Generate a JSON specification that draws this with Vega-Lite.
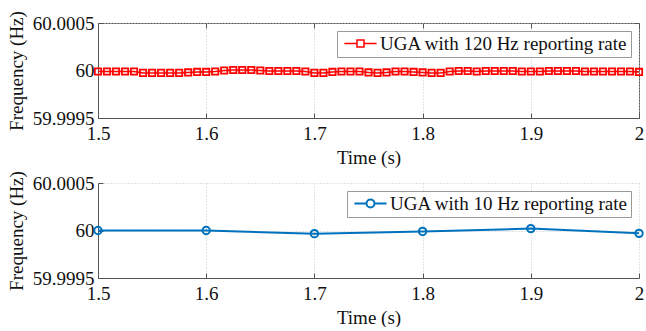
{
  "$schema": "https://vega.github.io/schema/vega-lite/v6.json",
  "padding": {"left": 6, "top": 10, "right": 4, "bottom": 0},
  "background": "white",
  "spacing": 65,
  "bounds": "flush",
  "resolve": {"scale": {"color": "independent"}, "legend": {"color": "independent"}},
  "datasets": {
    "r120": [
      {"t": 1.5, "f": 59.99999, "s": "UGA with 120 Hz reporting rate"},
      {"t": 1.508333, "f": 59.99999, "s": "UGA with 120 Hz reporting rate"},
      {"t": 1.516667, "f": 59.99999, "s": "UGA with 120 Hz reporting rate"},
      {"t": 1.525, "f": 59.99999, "s": "UGA with 120 Hz reporting rate"},
      {"t": 1.533333, "f": 59.99999, "s": "UGA with 120 Hz reporting rate"},
      {"t": 1.541667, "f": 59.999975, "s": "UGA with 120 Hz reporting rate"},
      {"t": 1.55, "f": 59.999975, "s": "UGA with 120 Hz reporting rate"},
      {"t": 1.558333, "f": 59.999975, "s": "UGA with 120 Hz reporting rate"},
      {"t": 1.566667, "f": 59.999975, "s": "UGA with 120 Hz reporting rate"},
      {"t": 1.575, "f": 59.999975, "s": "UGA with 120 Hz reporting rate"},
      {"t": 1.583333, "f": 59.99998, "s": "UGA with 120 Hz reporting rate"},
      {"t": 1.591667, "f": 59.999985, "s": "UGA with 120 Hz reporting rate"},
      {"t": 1.6, "f": 59.999985, "s": "UGA with 120 Hz reporting rate"},
      {"t": 1.608333, "f": 59.99999, "s": "UGA with 120 Hz reporting rate"},
      {"t": 1.616667, "f": 60, "s": "UGA with 120 Hz reporting rate"},
      {"t": 1.625, "f": 60.000005, "s": "UGA with 120 Hz reporting rate"},
      {"t": 1.633333, "f": 60.000005, "s": "UGA with 120 Hz reporting rate"},
      {"t": 1.641667, "f": 60.000005, "s": "UGA with 120 Hz reporting rate"},
      {"t": 1.65, "f": 60, "s": "UGA with 120 Hz reporting rate"},
      {"t": 1.658333, "f": 59.999995, "s": "UGA with 120 Hz reporting rate"},
      {"t": 1.666667, "f": 59.999995, "s": "UGA with 120 Hz reporting rate"},
      {"t": 1.675, "f": 59.999995, "s": "UGA with 120 Hz reporting rate"},
      {"t": 1.683333, "f": 59.999995, "s": "UGA with 120 Hz reporting rate"},
      {"t": 1.691667, "f": 59.99999, "s": "UGA with 120 Hz reporting rate"},
      {"t": 1.7, "f": 59.999975, "s": "UGA with 120 Hz reporting rate"},
      {"t": 1.708333, "f": 59.999975, "s": "UGA with 120 Hz reporting rate"},
      {"t": 1.716667, "f": 59.999985, "s": "UGA with 120 Hz reporting rate"},
      {"t": 1.725, "f": 59.99999, "s": "UGA with 120 Hz reporting rate"},
      {"t": 1.733333, "f": 59.99999, "s": "UGA with 120 Hz reporting rate"},
      {"t": 1.741667, "f": 59.99999, "s": "UGA with 120 Hz reporting rate"},
      {"t": 1.75, "f": 59.99998, "s": "UGA with 120 Hz reporting rate"},
      {"t": 1.758333, "f": 59.999975, "s": "UGA with 120 Hz reporting rate"},
      {"t": 1.766667, "f": 59.99998, "s": "UGA with 120 Hz reporting rate"},
      {"t": 1.775, "f": 59.99999, "s": "UGA with 120 Hz reporting rate"},
      {"t": 1.783333, "f": 59.99999, "s": "UGA with 120 Hz reporting rate"},
      {"t": 1.791667, "f": 59.999985, "s": "UGA with 120 Hz reporting rate"},
      {"t": 1.8, "f": 59.99998, "s": "UGA with 120 Hz reporting rate"},
      {"t": 1.808333, "f": 59.999975, "s": "UGA with 120 Hz reporting rate"},
      {"t": 1.816667, "f": 59.999975, "s": "UGA with 120 Hz reporting rate"},
      {"t": 1.825, "f": 59.99999, "s": "UGA with 120 Hz reporting rate"},
      {"t": 1.833333, "f": 59.999995, "s": "UGA with 120 Hz reporting rate"},
      {"t": 1.841667, "f": 59.999995, "s": "UGA with 120 Hz reporting rate"},
      {"t": 1.85, "f": 59.99999, "s": "UGA with 120 Hz reporting rate"},
      {"t": 1.858333, "f": 59.999995, "s": "UGA with 120 Hz reporting rate"},
      {"t": 1.866667, "f": 59.999995, "s": "UGA with 120 Hz reporting rate"},
      {"t": 1.875, "f": 59.999995, "s": "UGA with 120 Hz reporting rate"},
      {"t": 1.883333, "f": 59.999995, "s": "UGA with 120 Hz reporting rate"},
      {"t": 1.891667, "f": 59.99999, "s": "UGA with 120 Hz reporting rate"},
      {"t": 1.9, "f": 59.99999, "s": "UGA with 120 Hz reporting rate"},
      {"t": 1.908333, "f": 59.99999, "s": "UGA with 120 Hz reporting rate"},
      {"t": 1.916667, "f": 59.999995, "s": "UGA with 120 Hz reporting rate"},
      {"t": 1.925, "f": 59.999995, "s": "UGA with 120 Hz reporting rate"},
      {"t": 1.933333, "f": 59.999995, "s": "UGA with 120 Hz reporting rate"},
      {"t": 1.941667, "f": 59.999995, "s": "UGA with 120 Hz reporting rate"},
      {"t": 1.95, "f": 59.99999, "s": "UGA with 120 Hz reporting rate"},
      {"t": 1.958333, "f": 59.99999, "s": "UGA with 120 Hz reporting rate"},
      {"t": 1.966667, "f": 59.99999, "s": "UGA with 120 Hz reporting rate"},
      {"t": 1.975, "f": 59.99999, "s": "UGA with 120 Hz reporting rate"},
      {"t": 1.983333, "f": 59.99999, "s": "UGA with 120 Hz reporting rate"},
      {"t": 1.991667, "f": 59.99999, "s": "UGA with 120 Hz reporting rate"},
      {"t": 2.0, "f": 59.999985, "s": "UGA with 120 Hz reporting rate"}
    ],
    "r10": [
      {"t": 1.5, "f": 60, "s": "UGA with 10 Hz reporting rate"},
      {"t": 1.6, "f": 60, "s": "UGA with 10 Hz reporting rate"},
      {"t": 1.7, "f": 59.999967, "s": "UGA with 10 Hz reporting rate"},
      {"t": 1.8, "f": 59.99999, "s": "UGA with 10 Hz reporting rate"},
      {"t": 1.9, "f": 60.00002, "s": "UGA with 10 Hz reporting rate"},
      {"t": 2.0, "f": 59.99997, "s": "UGA with 10 Hz reporting rate"}
    ]
  },
  "config": {
    "font": "Liberation Serif",
    "view": {"stroke": "#555555", "strokeWidth": 1},
    "axis": {
      "labelFont": "Liberation Serif",
      "titleFont": "Liberation Serif",
      "labelFontSize": 19,
      "titleFontSize": 19,
      "titleFontWeight": "normal",
      "labelColor": "#111",
      "titleColor": "#111",
      "labelFlush": false,
      "labelOverlap": false,
      "domainColor": "#555555",
      "tickColor": "#555555",
      "gridColor": "#c8c8c8",
      "gridDash": [1, 2],
      "gridWidth": 1
    },
    "legend": {
      "labelFont": "Liberation Serif",
      "labelFontSize": 19,
      "labelColor": "#111",
      "labelLimit": 400
    }
  },
  "vconcat": [
    {
      "width": 541,
      "height": 95,
      "layer": [
        {
          "data": {"name": "r120"},
          "mark": {"type": "line", "strokeWidth": 1.5},
          "encoding": {
            "x": {"field": "t", "type": "quantitative", "scale": {"domain": [1.5, 2], "nice": false, "zero": false},
                  "axis": {"values": [1.5, 1.6, 1.7, 1.8, 1.9, 2], "format": "~g", "title": "Time (s)", "tickSize": -5, "labelPadding": 11, "titlePadding": 5, "grid": true}},
            "y": {"field": "f", "type": "quantitative", "scale": {"domain": [59.9995, 60.0005], "nice": false, "zero": false},
                  "axis": {"values": [59.9995, 60, 60.0005], "format": ".6~r", "title": "Frequency (Hz)", "tickSize": -5, "labelPadding": 9, "titlePadding": 6, "grid": true}},
            "color": {"field": "s", "type": "nominal", "scale": {"range": ["#ff0000"]},
                      "legend": {"title": null, "orient": "top-right", "offset": 8, "symbolType": "M-2.3,0H-0.5M0.5,0H2.3M-0.5,-0.5H0.5V0.5H-0.5Z", "symbolSize": 196, "symbolStrokeWidth": 1.5, "strokeColor": "#9a9a9a", "fillColor": "white", "padding": 3, "labelOffset": 10, "symbolOffset": 11}}
          }
        },
        {
          "data": {"name": "r120"},
          "mark": {"type": "point", "shape": "square", "filled": false, "size": 40, "strokeWidth": 1.8, "color": "#ff0000", "opacity": 1},
          "encoding": {
            "x": {"field": "t", "type": "quantitative", "axis": {"orient": "top", "values": [1.5, 1.6, 1.7, 1.8, 1.9, 2], "labels": false, "title": null, "tickSize": -5, "domain": false, "grid": false}},
            "y": {"field": "f", "type": "quantitative", "axis": {"orient": "right", "values": [59.9995, 60, 60.0005], "labels": false, "title": null, "tickSize": -5, "domain": false, "grid": false}}
          }
        }
      ],
      "resolve": {"axis": {"x": "independent", "y": "independent"}}
    },
    {
      "width": 541,
      "height": 95,
      "view": {"stroke": null},
      "layer": [
        {
          "data": {"name": "r10"},
          "mark": {"type": "line", "strokeWidth": 2},
          "encoding": {
            "x": {"field": "t", "type": "quantitative", "scale": {"domain": [1.5, 2], "nice": false, "zero": false},
                  "axis": {"values": [1.5, 1.6, 1.7, 1.8, 1.9, 2], "format": "~g", "title": "Time (s)", "tickSize": -5, "labelPadding": 11, "titlePadding": 5, "grid": true}},
            "y": {"field": "f", "type": "quantitative", "scale": {"domain": [59.9995, 60.0005], "nice": false, "zero": false},
                  "axis": {"values": [59.9995, 60, 60.0005], "format": ".6~r", "title": "Frequency (Hz)", "tickSize": -5, "labelPadding": 9, "titlePadding": 6, "grid": true}},
            "color": {"field": "s", "type": "nominal", "scale": {"range": ["#0072BD"]},
                      "legend": {"title": null, "orient": "top-right", "offset": 8, "symbolType": "M-2.3,0H-0.57M0.57,0H2.3M0.57,0A0.57,0.57,0,1,1,-0.57,0A0.57,0.57,0,1,1,0.57,0Z", "symbolSize": 196, "symbolStrokeWidth": 2, "strokeColor": "#9a9a9a", "fillColor": "white", "padding": 3, "labelOffset": 10, "symbolOffset": 11}}
          }
        },
        {
          "data": {"name": "r10"},
          "mark": {"type": "point", "shape": "circle", "filled": false, "size": 55, "strokeWidth": 2, "color": "#0072BD", "opacity": 1},
          "encoding": {
            "x": {"field": "t", "type": "quantitative"},
            "y": {"field": "f", "type": "quantitative"}
          }
        }
      ]
    }
  ]
}
